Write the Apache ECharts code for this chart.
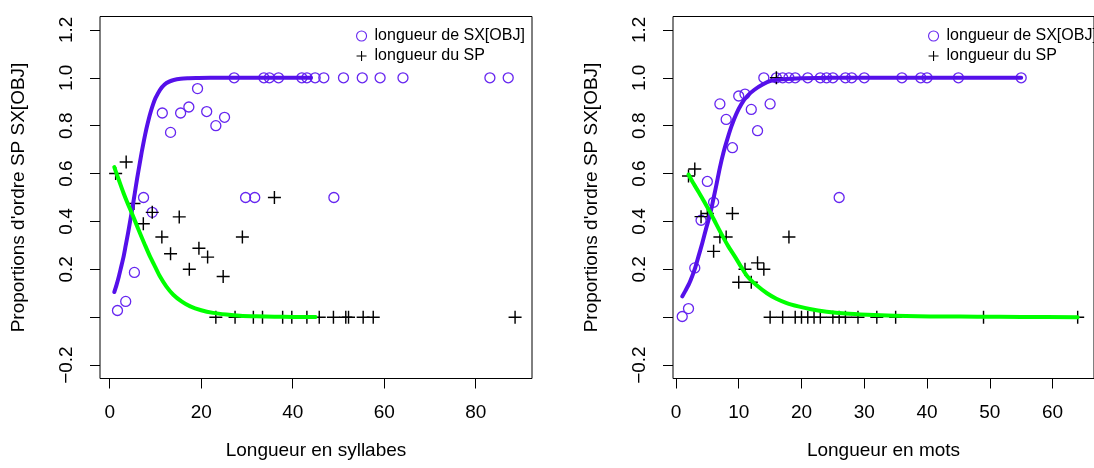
<!DOCTYPE html>
<html><head><meta charset="utf-8">
<script src="https://cdn.jsdelivr.net/npm/echarts@6/dist/echarts.min.js"></script>
<style>html,body{margin:0;padding:0;background:#fff}#c{width:1094px;height:468px}</style>
</head><body><div id="c"></div>
<script>
// ---- text ----
const sxLabel = 'longueur de SX[OBJ]';
const spLabel = 'longueur du SP';
const xTitleL = 'Longueur en syllabes';
const xTitleR = 'Longueur en mots';
const yTitle = "Proportions d'ordre SP SX[OBJ]";

// ---- ticks ----
const xTicksL = [0, 20, 40, 60, 80];
const xTicksR = [0, 10, 20, 30, 40, 50, 60];
const yTicks = [-0.2, 0, 0.2, 0.4, 0.6, 0.8, 1.0, 1.2];

// ---- left panel: length in syllables ----
const sxSylX = [1.7, 3.5, 5.4, 7.4, 9.3, 11.5, 13.3, 15.5, 17.3, 19.2, 21.2, 23.2, 25.1, 27.2, 29.7, 31.7, 33.7, 34.9, 36.9, 42, 43.1, 44.9, 46.8, 49, 51.1, 55.2, 59.1, 64.1, 83.1, 87.1];
const sxSylY = [0.028, 0.066, 0.187, 0.50, 0.438, 0.853, 0.772, 0.853, 0.878, 0.955, 0.859, 0.80, 0.835, 1, 0.5, 0.5, 1, 1, 1, 1, 1, 1, 1, 0.5, 1, 1, 1, 1, 1, 1];
const spSylX = [1.3, 3.6, 5.3, 7.35, 9.3, 11.4, 13.3, 15.2, 17.4, 19.5, 21.4, 24.8, 29, 36, 23.2, 27.4, 31.4, 33.4, 37.8, 39.8, 43.1, 45.8, 48.9, 51.6, 52.2, 55.4, 57.6, 88.6];
const spSylY = [0.60, 0.648, 0.475, 0.39, 0.438, 0.335, 0.265, 0.419, 0.20, 0.288, 0.251, 0.17, 0.335, 0.5, 0, 0, 0, 0, 0, 0, 0, 0, 0, 0, 0, 0, 0, 0];
// fitted curves
const fitSxSylX = [1, 1.5, 2, 2.5, 3, 3.5, 4, 4.5, 5, 5.5, 6, 6.5, 7, 7.5, 8, 8.5, 9, 9.5, 10, 11, 12, 13, 14, 15.5, 17, 19, 22, 26, 30, 36, 44];
const fitSxSylY = [0.105, 0.135, 0.17, 0.21, 0.25, 0.30, 0.35, 0.405, 0.46, 0.52, 0.58, 0.635, 0.69, 0.74, 0.785, 0.825, 0.86, 0.89, 0.915, 0.95, 0.972, 0.984, 0.991, 0.996, 0.998, 0.999, 1, 1, 1, 1, 1];
const fitSpSylX = [1, 2, 3, 4, 4.8, 5.7, 6.6, 7.7, 8.8, 10, 11, 12.4, 13.9, 15.7, 17.6, 20, 22.6, 25.5, 28.5, 32, 36, 40, 45];
const fitSpSylY = [0.627, 0.573, 0.52, 0.472, 0.436, 0.394, 0.352, 0.302, 0.254, 0.208, 0.17, 0.128, 0.094, 0.066, 0.045, 0.029, 0.018, 0.011, 0.006, 0.0035, 0.002, 0.001, 0.0005];

// ---- right panel: length in words ----
const sxMotX = [1, 2, 3, 4, 5, 6, 7, 8, 9, 10, 11, 12, 13, 14, 15, 16, 17, 18, 19, 21, 23, 24, 25, 26, 27, 28, 30, 36, 39, 40, 45, 55];
const sxMotY = [0.003, 0.036, 0.206, 0.405, 0.567, 0.48, 0.891, 0.826, 0.708, 0.924, 0.932, 0.868, 0.779, 1, 0.891, 1, 1, 1, 1, 1, 1, 1, 1, 0.5, 1, 1, 1, 1, 1, 1, 1, 1];
const spMotX = [2, 3, 4, 5, 6, 7, 8, 9, 10, 11, 12, 13, 14, 16, 18, 15, 17, 19, 20, 21, 22, 23, 25, 26, 27, 29, 32, 35, 49, 64];
const spMotY = [0.59, 0.619, 0.42, 0.433, 0.275, 0.335, 0.335, 0.433, 0.146, 0.20, 0.146, 0.227, 0.20, 1, 0.335, 0, 0, 0, 0, 0, 0, 0, 0, 0, 0, 0, 0, 0, 0, 0];
const fitSxMotX = [1, 1.5, 2.1, 2.6, 3.06, 3.6, 4.2, 4.8, 5.5, 6, 6.5, 7, 7.56, 8.2, 8.85, 9.6, 10.4, 11.4, 12.5, 13.8, 15.1, 17, 20, 25, 30, 40, 55];
const fitSxMotY = [0.087, 0.11, 0.14, 0.172, 0.206, 0.255, 0.31, 0.37, 0.436, 0.498, 0.56, 0.625, 0.687, 0.745, 0.798, 0.848, 0.889, 0.925, 0.95, 0.972, 0.987, 0.994, 0.998, 1, 1, 1, 1];
const fitSpMotX = [2, 2.8, 3.68, 4.6, 5.5, 6.4, 7.3, 8.3, 9.37, 10.4, 11.4, 12.9, 14.5, 16, 17.65, 19.5, 21.3, 24, 27, 30.5, 34.8, 38.5, 42.5, 48, 55, 64];
const fitSpMotY = [0.596, 0.558, 0.52, 0.478, 0.436, 0.39, 0.345, 0.298, 0.254, 0.21, 0.17, 0.132, 0.10, 0.077, 0.059, 0.045, 0.034, 0.023, 0.015, 0.01, 0.006, 0.004, 0.003, 0.002, 0.001, 0.0003];

// ---- styling ----
const FONT = "'Liberation Sans', Arial, Helvetica, sans-serif";
const PURPLE_PT = '#6626f0';
const PURPLE_LN = '#5510ea';
const GREEN = '#00ff00';
const plusPath = 'path://M4.45,0H5.55V4.45H10V5.55H5.55V10H4.45V5.55H0V4.45H4.45Z';

const zip = (a, b) => a.map((v, i) => [v, b[i]]);
const yFmt = v => {
  if (Math.abs(v) < 1e-9) return '';
  return v < 0 ? '\u2212' + Math.abs(v).toFixed(1) : v.toFixed(1);
};

function xAxis(idx, min, max, ticks, title) {
  return {
    type: 'value', gridIndex: idx, min: min, max: max, position: 'bottom',
    axisLine: { show: false, onZero: false },
    axisTick: { show: true, inside: false, length: 10, customValues: ticks, lineStyle: { color: '#000', width: 1 } },
    axisLabel: { customValues: ticks, margin: 25, fontSize: 19, color: '#000', fontFamily: FONT },
    splitLine: { show: false },
    name: title, nameLocation: 'middle', nameGap: 63,
    nameTextStyle: { fontSize: 19, color: '#000', fontFamily: FONT }
  };
}
function yAxis(idx) {
  return {
    type: 'value', gridIndex: idx, min: -0.256, max: 1.256, position: 'left',
    axisLine: { show: false, onZero: false },
    axisTick: { show: true, inside: false, length: 10, customValues: yTicks, lineStyle: { color: '#000', width: 1 } },
    axisLabel: { customValues: yTicks, rotate: 90, margin: 24, fontSize: 19, color: '#000', fontFamily: FONT, formatter: yFmt },
    splitLine: { show: false },
    name: yTitle, nameLocation: 'middle', nameGap: 72,
    nameTextStyle: { fontSize: 19, color: '#000', fontFamily: FONT }
  };
}
function circles(idx, xs, ys) {
  return { name: sxLabel, type: 'scatter', xAxisIndex: idx, yAxisIndex: idx, data: zip(xs, ys),
    symbol: 'circle', symbolSize: 10, z: 2,
    itemStyle: { color: 'rgba(255,255,255,0)', borderColor: PURPLE_PT, borderWidth: 1.3, opacity: 1 } };
}
function pluses(idx, xs, ys) {
  return { name: spLabel, type: 'scatter', xAxisIndex: idx, yAxisIndex: idx, data: zip(xs, ys),
    symbol: plusPath, symbolSize: 13, z: 2,
    itemStyle: { color: '#000', opacity: 1 } };
}
function curve(name, idx, xs, ys, color) {
  return { name: name, type: 'line', xAxisIndex: idx, yAxisIndex: idx, data: zip(xs, ys),
    showSymbol: false, smooth: 0.25, z: 3, silent: true,
    lineStyle: { color: color, width: 4, cap: 'round', join: 'round' } };
}
function legend(left) {
  return {
    left: left, top: 23, orient: 'vertical', itemWidth: 10, itemHeight: 10, itemGap: 4,
    selectedMode: false,
    data: [{ name: sxLabel, icon: 'circle', itemStyle: { borderWidth: 1.1 } }, { name: spLabel, icon: plusPath }],
    textStyle: { fontSize: 16, color: '#000', fontFamily: FONT, padding: [0, 0, 0, 3] }
  };
}

const chart = echarts.init(document.getElementById('c'), null, { renderer: 'canvas' });
chart.setOption({
  animation: false,
  backgroundColor: '#fff',
  textStyle: { fontFamily: FONT },
  legend: [legend(351), legend(923)],
  grid: [
    { left: 100, top: 16.5, width: 432, height: 362, show: true, borderColor: '#000', borderWidth: 1, backgroundColor: 'transparent', containLabel: false },
    { left: 673, top: 16.5, width: 432, height: 362, show: true, borderColor: '#000', borderWidth: 1, backgroundColor: 'transparent', containLabel: false }
  ],
  xAxis: [xAxis(0, -2.12, 92.3, xTicksL, xTitleL), xAxis(1, -0.47, 66.6, xTicksR, xTitleR)],
  yAxis: [yAxis(0), yAxis(1)],
  series: [
    circles(0, sxSylX, sxSylY),
    pluses(0, spSylX, spSylY),
    curve('ajustement SX syllabes', 0, fitSxSylX, fitSxSylY, PURPLE_LN),
    curve('ajustement SP syllabes', 0, fitSpSylX, fitSpSylY, GREEN),
    circles(1, sxMotX, sxMotY),
    pluses(1, spMotX, spMotY),
    curve('ajustement SX mots', 1, fitSxMotX, fitSxMotY, PURPLE_LN),
    curve('ajustement SP mots', 1, fitSpMotX, fitSpMotY, GREEN)
  ]
});
</script></body></html>
